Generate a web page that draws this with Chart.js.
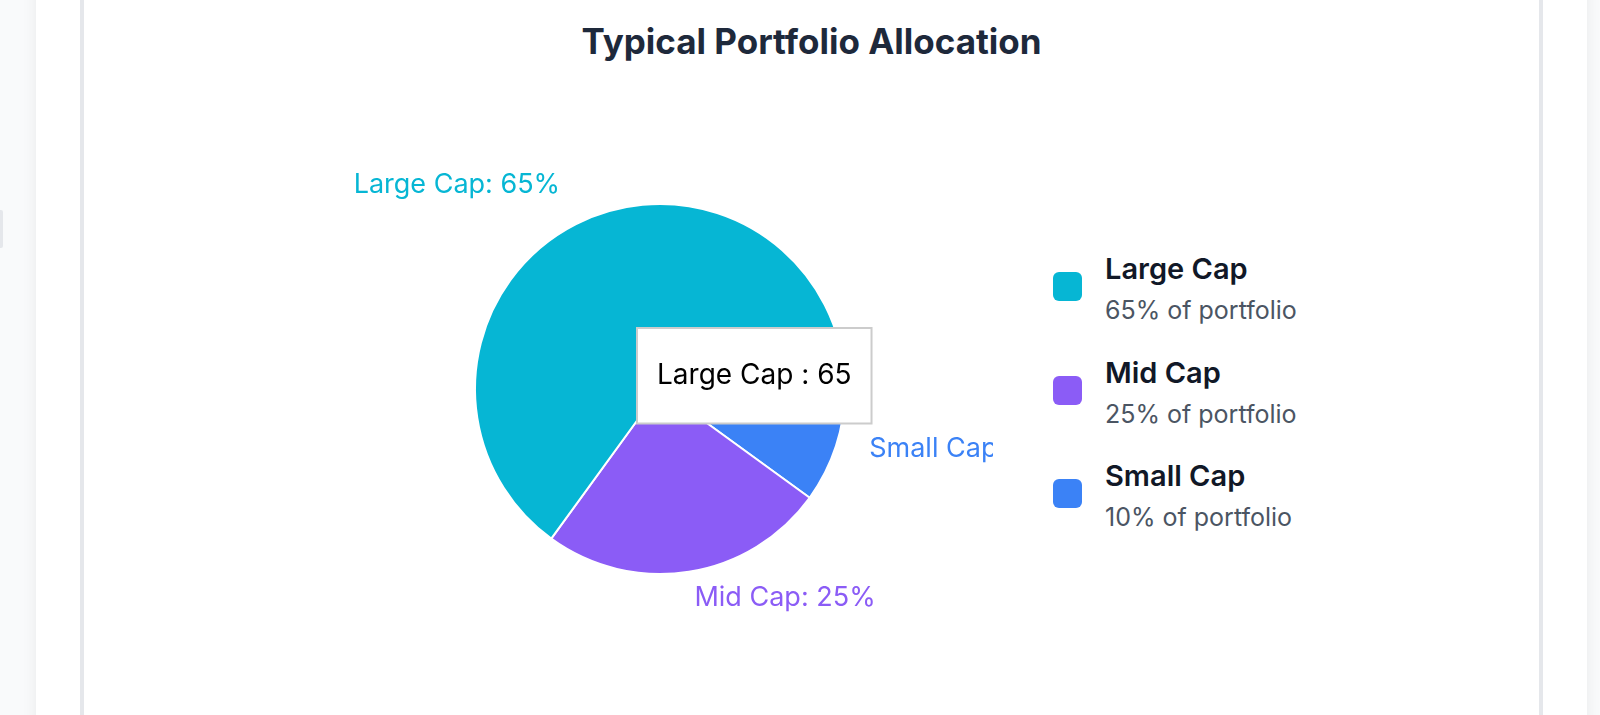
<!DOCTYPE html>
<html>
<head>
<meta charset="utf-8">
<script src="https://cdn.jsdelivr.net/npm/chart.js@4.4.1/dist/chart.umd.min.js"></script>
<style>
  html, body { margin: 0; padding: 0; }
  body { width: 1600px; height: 715px; overflow: hidden; background: #f9fafb; position: relative; font-family: Inter, "Noto Sans", sans-serif; }
  .panel { position: absolute; left: 36px; width: 1551px; top: -20px; height: 760px; background: #ffffff; box-shadow: 0 0 14px rgba(0,0,0,0.07); }
  .nub { position: absolute; left: 0; top: 210px; width: 3px; height: 38px; background: #e5e7eb; border-radius: 0 2px 2px 0; }
  .card { position: absolute; left: 80px; width: 1455px; top: -20px; height: 760px; background: #fff; border-left: 4px solid #e5e7eb; border-right: 4px solid #e5e7eb; }
  .title { position: absolute; left: 80px; width: 1463px; top: 24px; text-align: center; font-size: 35px; line-height: 35px; font-weight: 700; color: #1e293b; letter-spacing: 0px; }
  .chartbox { position: absolute; left: 327px; top: 100px; width: 666px; height: 578px; }
  .sw { position: absolute; left: 1053px; width: 29px; height: 29px; border-radius: 6px; }
  .lname { position: absolute; left: 1105px; font-size: 29px; line-height: 29px; font-weight: 600; color: #111827; white-space: nowrap; }
  .lsub { position: absolute; left: 1105px; font-size: 25px; line-height: 25px; font-weight: 400; color: #4b5563; white-space: nowrap; }
</style>
</head>
<body>
<div class="panel"></div>
<div class="nub"></div>
<div class="card"></div>
<div class="title">Typical Portfolio Allocation</div>
<div class="chartbox"><canvas id="c"></canvas></div>
<div id="legend"></div>
<script>
// ---- data ----
const categories = ['Large Cap', 'Mid Cap', 'Small Cap'];
const allocation = [65, 25, 10];
const sliceColors = ['#06b6d4', '#8b5cf6', '#3b82f6'];
const highlighted = 'Large Cap';

// slices run counter-clockwise from 3 o'clock in the reference,
// so Chart.js gets the reversed order starting at 3 o'clock
const order = categories.map((_, i) => i).reverse();
const chartLabels = order.map(i => categories[i]);
const chartValues = order.map(i => allocation[i]);
const chartColors = order.map(i => sliceColors[i]);

const FONT = 'Inter, "Noto Sans", sans-serif';

const outsideLabels = {
  id: 'outsideLabels',
  afterDatasetsDraw(chart) {
    const ctx = chart.ctx;
    const meta = chart.getDatasetMeta(0);
    const ds = chart.data.datasets[0];
    ctx.save();
    ctx.font = '400 27px ' + FONT;
    ctx.textBaseline = 'alphabetic';
    meta.data.forEach((arc, i) => {
      const p = arc.getProps(['x', 'y', 'startAngle', 'endAngle', 'outerRadius'], true);
      const mid = (p.startAngle + p.endAngle) / 2;
      const R = p.outerRadius + 35;
      const tx = p.x + R * Math.cos(mid);
      const ty = p.y + R * Math.sin(mid);
      ctx.fillStyle = ds.backgroundColor[i];
      ctx.textAlign = tx > p.x ? 'left' : 'right';
      ctx.fillText(chart.data.labels[i] + ': ' + ds.data[i] + '%', tx, ty);
    });
    ctx.restore();
  }
};

Chart.Tooltip.positioners.fixedBox = function () {
  return { x: 636 - 327 + 1, y: 327 - 100 + 1, xAlign: 'left', yAlign: 'top' };
};

const chart = new Chart(document.getElementById('c'), {
  type: 'pie',
  data: {
    labels: chartLabels,
    datasets: [{
      data: chartValues,
      backgroundColor: chartColors,
      hoverBackgroundColor: chartColors,
      borderColor: '#ffffff',
      borderWidth: 2,
      hoverOffset: 0,
      offset: 0
    }]
  },
  options: {
    responsive: true,
    maintainAspectRatio: false,
    animation: false,
    events: [],
    rotation: 90,
    layout: { padding: { left: 147, right: 147, top: 103, bottom: 103 } },
    plugins: {
      legend: { display: false },
      title: { display: false },
      tooltip: {
        enabled: true,
        animation: false,
        position: 'fixedBox',
        backgroundColor: '#ffffff',
        borderColor: '#cccccc',
        borderWidth: 2,
        cornerRadius: 0,
        caretSize: 0,
        caretPadding: 0,
        displayColors: false,
        bodyColor: '#000000',
        bodyFont: { family: FONT, size: 28, weight: '400' },
        padding: { top: 31, bottom: 31, left: 20, right: 20 },
        callbacks: {
          title: () => '',
          label: (item) => item.label + ' : ' + item.raw
        }
      }
    }
  },
  plugins: [outsideLabels]
});

const hiIndex = chartLabels.indexOf(highlighted);
chart.tooltip.setActiveElements([{ datasetIndex: 0, index: hiIndex }], { x: 310, y: 228 });
chart.draw();

// ---- HTML legend ----
const legend = document.getElementById('legend');
categories.forEach((name, i) => {
  const step = i * 103.5;
  const sw = document.createElement('div');
  sw.className = 'sw';
  sw.style.top = (272 + step) + 'px';
  sw.style.background = sliceColors[i];
  legend.appendChild(sw);
  const n = document.createElement('div');
  n.className = 'lname';
  n.style.top = (254 + step) + 'px';
  n.textContent = name;
  legend.appendChild(n);
  const s = document.createElement('div');
  s.className = 'lsub';
  s.style.top = (298 + step) + 'px';
  s.textContent = allocation[i] + '% of portfolio';
  legend.appendChild(s);
});
</script>
</body>
</html>
